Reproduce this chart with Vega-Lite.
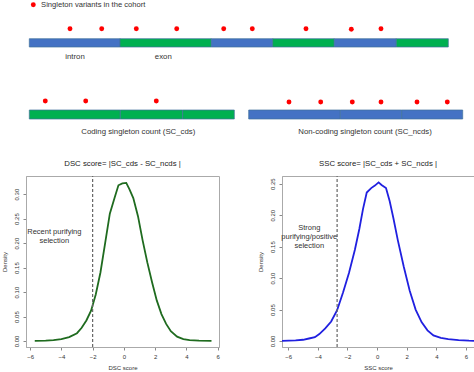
{
  "$schema": "https://vega.github.io/schema/vega-lite/v6.json",
  "padding": 0,
  "background": "white",
  "config": {"font": "Liberation Sans", "text": {"font": "Liberation Sans"}, "axis": {"labelOverlap": false}},
  "datasets": {
    "segments": [
      {"track": "gene", "kind": "intron", "start": 29.3, "end": 120, "lo": 38.7, "hi": 47},
      {"track": "gene", "kind": "exon", "start": 120, "end": 211.3, "lo": 38.7, "hi": 47},
      {"track": "gene", "kind": "intron", "start": 211.3, "end": 272.7, "lo": 38.7, "hi": 47},
      {"track": "gene", "kind": "exon", "start": 272.7, "end": 334.3, "lo": 38.7, "hi": 47},
      {"track": "gene", "kind": "intron", "start": 334.3, "end": 396.3, "lo": 38.7, "hi": 47},
      {"track": "gene", "kind": "exon", "start": 396.3, "end": 448.3, "lo": 38.7, "hi": 47},
      {"track": "coding", "kind": "exon", "start": 29.3, "end": 120.3, "lo": 110, "hi": 119},
      {"track": "coding", "kind": "exon", "start": 120.3, "end": 182.7, "lo": 110, "hi": 119},
      {"track": "coding", "kind": "exon", "start": 182.7, "end": 234.3, "lo": 110, "hi": 119},
      {"track": "noncoding", "kind": "intron", "start": 248.7, "end": 340.3, "lo": 110, "hi": 119},
      {"track": "noncoding", "kind": "intron", "start": 340.3, "end": 401.7, "lo": 110, "hi": 119},
      {"track": "noncoding", "kind": "intron", "start": 401.7, "end": 462.7, "lo": 110, "hi": 119}
    ],
    "variants": [
      {"track": "gene", "pos": 70, "h": 28.7},
      {"track": "gene", "pos": 101.7, "h": 28.7},
      {"track": "gene", "pos": 136.3, "h": 28.7},
      {"track": "gene", "pos": 176.7, "h": 28.7},
      {"track": "gene", "pos": 223.7, "h": 28.7},
      {"track": "gene", "pos": 252.3, "h": 28.7},
      {"track": "gene", "pos": 306, "h": 28.7},
      {"track": "gene", "pos": 351.3, "h": 29.3},
      {"track": "gene", "pos": 381, "h": 28.7},
      {"track": "coding", "pos": 45.3, "h": 101},
      {"track": "coding", "pos": 85.7, "h": 101},
      {"track": "coding", "pos": 156.3, "h": 101},
      {"track": "noncoding", "pos": 289, "h": 102},
      {"track": "noncoding", "pos": 320.7, "h": 102},
      {"track": "noncoding", "pos": 352.3, "h": 102},
      {"track": "noncoding", "pos": 381, "h": 102},
      {"track": "noncoding", "pos": 417, "h": 102},
      {"track": "noncoding", "pos": 447.3, "h": 102}
    ],
    "labels": [
      {"label": "intron", "pos": 75, "h": 57.3},
      {"label": "exon", "pos": 163.3, "h": 57.3},
      {"label": "Coding singleton count (SC_cds)", "pos": 138.3, "h": 131.5},
      {"label": "Non-coding singleton count (SC_ncds)", "pos": 365, "h": 131.5}
    ],
    "dsc": [
      {"score": -5.7, "density": 0.0005}, {"score": -5.0, "density": 0.001}, {"score": -4.5, "density": 0.002},
      {"score": -4.0, "density": 0.004}, {"score": -3.5, "density": 0.008}, {"score": -3.0, "density": 0.016},
      {"score": -2.7, "density": 0.027}, {"score": -2.4, "density": 0.042}, {"score": -2.1, "density": 0.062},
      {"score": -1.8, "density": 0.095}, {"score": -1.5, "density": 0.14}, {"score": -1.2, "density": 0.2},
      {"score": -0.9, "density": 0.26}, {"score": -0.6, "density": 0.292}, {"score": -0.35, "density": 0.318},
      {"score": -0.1, "density": 0.322}, {"score": 0.15, "density": 0.323}, {"score": 0.35, "density": 0.31},
      {"score": 0.6, "density": 0.292}, {"score": 0.9, "density": 0.255}, {"score": 1.2, "density": 0.205},
      {"score": 1.5, "density": 0.16}, {"score": 1.8, "density": 0.12}, {"score": 2.1, "density": 0.083},
      {"score": 2.4, "density": 0.055}, {"score": 2.7, "density": 0.035}, {"score": 3.0, "density": 0.02},
      {"score": 3.4, "density": 0.009}, {"score": 3.8, "density": 0.004}, {"score": 4.2, "density": 0.002},
      {"score": 4.8, "density": 0.001}, {"score": 5.6, "density": 0.0003}
    ],
    "ssc": [
      {"score": -6.42, "density": 0.0003}, {"score": -5.5, "density": 0.001}, {"score": -5.0, "density": 0.002},
      {"score": -4.6, "density": 0.004}, {"score": -4.2, "density": 0.006}, {"score": -3.9, "density": 0.011},
      {"score": -3.5, "density": 0.02}, {"score": -3.1, "density": 0.031}, {"score": -2.7, "density": 0.049},
      {"score": -2.3, "density": 0.077}, {"score": -1.9, "density": 0.108}, {"score": -1.5, "density": 0.145},
      {"score": -1.2, "density": 0.178}, {"score": -0.95, "density": 0.21}, {"score": -0.7, "density": 0.236},
      {"score": -0.4, "density": 0.243}, {"score": -0.15, "density": 0.247}, {"score": 0.1, "density": 0.252},
      {"score": 0.3, "density": 0.248}, {"score": 0.6, "density": 0.243}, {"score": 0.85, "density": 0.222},
      {"score": 1.1, "density": 0.195}, {"score": 1.4, "density": 0.16}, {"score": 1.8, "density": 0.118},
      {"score": 2.2, "density": 0.08}, {"score": 2.6, "density": 0.05}, {"score": 3.0, "density": 0.03},
      {"score": 3.4, "density": 0.017}, {"score": 3.8, "density": 0.009}, {"score": 4.3, "density": 0.005},
      {"score": 4.8, "density": 0.003}, {"score": 5.5, "density": 0.0015}, {"score": 6.2, "density": 0.0005},
      {"score": 6.54, "density": 0.0003}
    ]
  },
  "spacing": 19,
  "vconcat": [
    {
      "width": 448,
      "height": 140,
      "view": {"stroke": null},
      "layer": [
        {
          "data": {"name": "segments"},
          "mark": {"type": "rect", "stroke": "#41719C", "strokeWidth": 0.7},
          "encoding": {
            "x": {"field": "start", "type": "quantitative", "scale": {"domain": [26, 474], "nice": false, "zero": false}, "axis": null},
            "x2": {"field": "end"},
            "y": {"field": "lo", "type": "quantitative", "scale": {"domain": [0, 140], "nice": false, "reverse": true}, "axis": null},
            "y2": {"field": "hi"},
            "fill": {"field": "kind", "type": "nominal", "scale": {"domain": ["intron", "exon"], "range": ["#4472C4", "#00B050"]}, "legend": null}
          }
        },
        {
          "data": {"name": "variants"},
          "mark": {"type": "circle", "size": 24, "opacity": 1},
          "encoding": {
            "x": {"field": "pos", "type": "quantitative", "axis": null},
            "y": {"field": "h", "type": "quantitative", "axis": null},
            "color": {
              "datum": "Singleton variants in the cohort", "type": "nominal",
              "scale": {"range": ["#FF0000"]},
              "legend": {"title": null, "orient": "none", "legendX": 3.5, "legendY": 1, "labelFontSize": 7.6, "labelColor": "#333", "labelOffset": 4, "symbolSize": 24, "symbolType": "circle", "padding": 0}
            }
          }
        },
        {
          "data": {"name": "labels"},
          "mark": {"type": "text", "fontSize": 7.8, "fill": "#333", "align": "center", "baseline": "middle"},
          "encoding": {
            "x": {"field": "pos", "type": "quantitative", "axis": null},
            "y": {"field": "h", "type": "quantitative", "axis": null},
            "text": {"field": "label"}
          }
        }
      ],
      "resolve": {"scale": {"color": "independent"}}
    },
    {
      "hconcat": [
        {
          "width": 193,
          "height": 171,
          "view": {"stroke": "#aaa"},
          "title": {"text": "DSC score= |SC_cds - SC_ncds |", "fontSize": 7.8, "fontWeight": "normal", "offset": 8, "anchor": "middle", "color": "#222"},
          "encoding": {
            "x": {"field": "score", "type": "quantitative", "scale": {"domain": [-6.26, 6.08], "nice": false, "zero": false},
              "axis": {"title": "DSC score", "values": [-6, -4, -2, 0, 2, 4, 6], "grid": false, "offset": 0, "tickSize": 3, "labelPadding": 3.5, "labelOverlap": false, "labelFontSize": 6, "labelColor": "#333", "domainColor": "#aaa", "tickColor": "#888", "titleFontSize": 6, "titleFontWeight": "normal", "titleColor": "#333", "titlePadding": 5, "labelFlush": false}},
            "y": {"field": "density", "type": "quantitative", "scale": {"domain": [-0.0122, 0.337], "nice": false, "zero": false},
              "axis": {"title": "Density", "values": [0, 0.05, 0.1, 0.15, 0.2, 0.25, 0.3], "format": ".2f", "grid": false, "offset": 0, "tickSize": 3, "labelPadding": 3.5, "labelOverlap": false, "labelAngle": -90, "labelFontSize": 6, "labelColor": "#333", "domainColor": "#aaa", "tickColor": "#888", "titleFontSize": 6, "titleFontWeight": "normal", "titleColor": "#333", "titlePadding": 6.5, "labelFlush": false}}
          },
          "layer": [
            {
              "data": {"name": "dsc"},
              "mark": {"type": "line", "color": "#1f6b1f", "strokeWidth": 1.8}
            },
            {
              "data": {"values": [{"score": -2, "density": -0.0122, "upto": 0.337}]},
              "mark": {"type": "rule", "color": "#666", "strokeDash": [3, 2], "strokeWidth": 1.2},
              "encoding": {"y2": {"field": "upto"}}
            },
            {
              "data": {"values": [{"note": "Recent purifying\nselection", "score": -4.45, "density": 0.223}]},
              "mark": {"type": "text", "lineBreak": "\n", "fontSize": 7.5, "fill": "#333", "align": "center", "baseline": "middle", "lineHeight": 9},
              "encoding": {"text": {"field": "note"}}
            }
          ]
        },
        {
          "width": 192,
          "height": 171,
          "view": {"stroke": "#aaa"},
          "title": {"text": "SSC score= |SC_cds + SC_ncds |", "fontSize": 7.8, "fontWeight": "normal", "offset": 8, "anchor": "middle", "color": "#222"},
          "encoding": {
            "x": {"field": "score", "type": "quantitative", "scale": {"domain": [-6.42, 6.54], "nice": false, "zero": false},
              "axis": {"title": "SSC score", "values": [-6, -4, -2, 0, 2, 4, 6], "grid": false, "offset": 0, "tickSize": 3, "labelPadding": 3.5, "labelOverlap": false, "labelFontSize": 6, "labelColor": "#333", "domainColor": "#aaa", "tickColor": "#888", "titleFontSize": 6, "titleFontWeight": "normal", "titleColor": "#333", "titlePadding": 5, "labelFlush": false}},
            "y": {"field": "density", "type": "quantitative", "scale": {"domain": [-0.0095, 0.2622], "nice": false, "zero": false},
              "axis": {"title": "Density", "values": [0, 0.05, 0.1, 0.15, 0.2, 0.25], "format": ".2f", "grid": false, "offset": 0, "tickSize": 3, "labelPadding": 3.5, "labelOverlap": false, "labelAngle": -90, "labelFontSize": 6, "labelColor": "#333", "domainColor": "#aaa", "tickColor": "#888", "titleFontSize": 6, "titleFontWeight": "normal", "titleColor": "#333", "titlePadding": 6.5, "labelFlush": false}}
          },
          "layer": [
            {
              "data": {"name": "ssc"},
              "mark": {"type": "line", "color": "#2020e0", "strokeWidth": 1.8}
            },
            {
              "data": {"values": [{"score": -2.7, "density": -0.0095, "upto": 0.2622}]},
              "mark": {"type": "rule", "color": "#666", "strokeDash": [3, 2], "strokeWidth": 1.2},
              "encoding": {"y2": {"field": "upto"}}
            },
            {
              "data": {"values": [{"note": "Strong\npurifying/positive\nselection", "score": -4.58, "density": 0.18}]},
              "mark": {"type": "text", "lineBreak": "\n", "fontSize": 7.5, "fill": "#333", "align": "center", "baseline": "middle", "lineHeight": 9},
              "encoding": {"text": {"field": "note"}}
            }
          ]
        }
      ],
      "spacing": 63,
      "bounds": "flush"
    }
  ]
}
